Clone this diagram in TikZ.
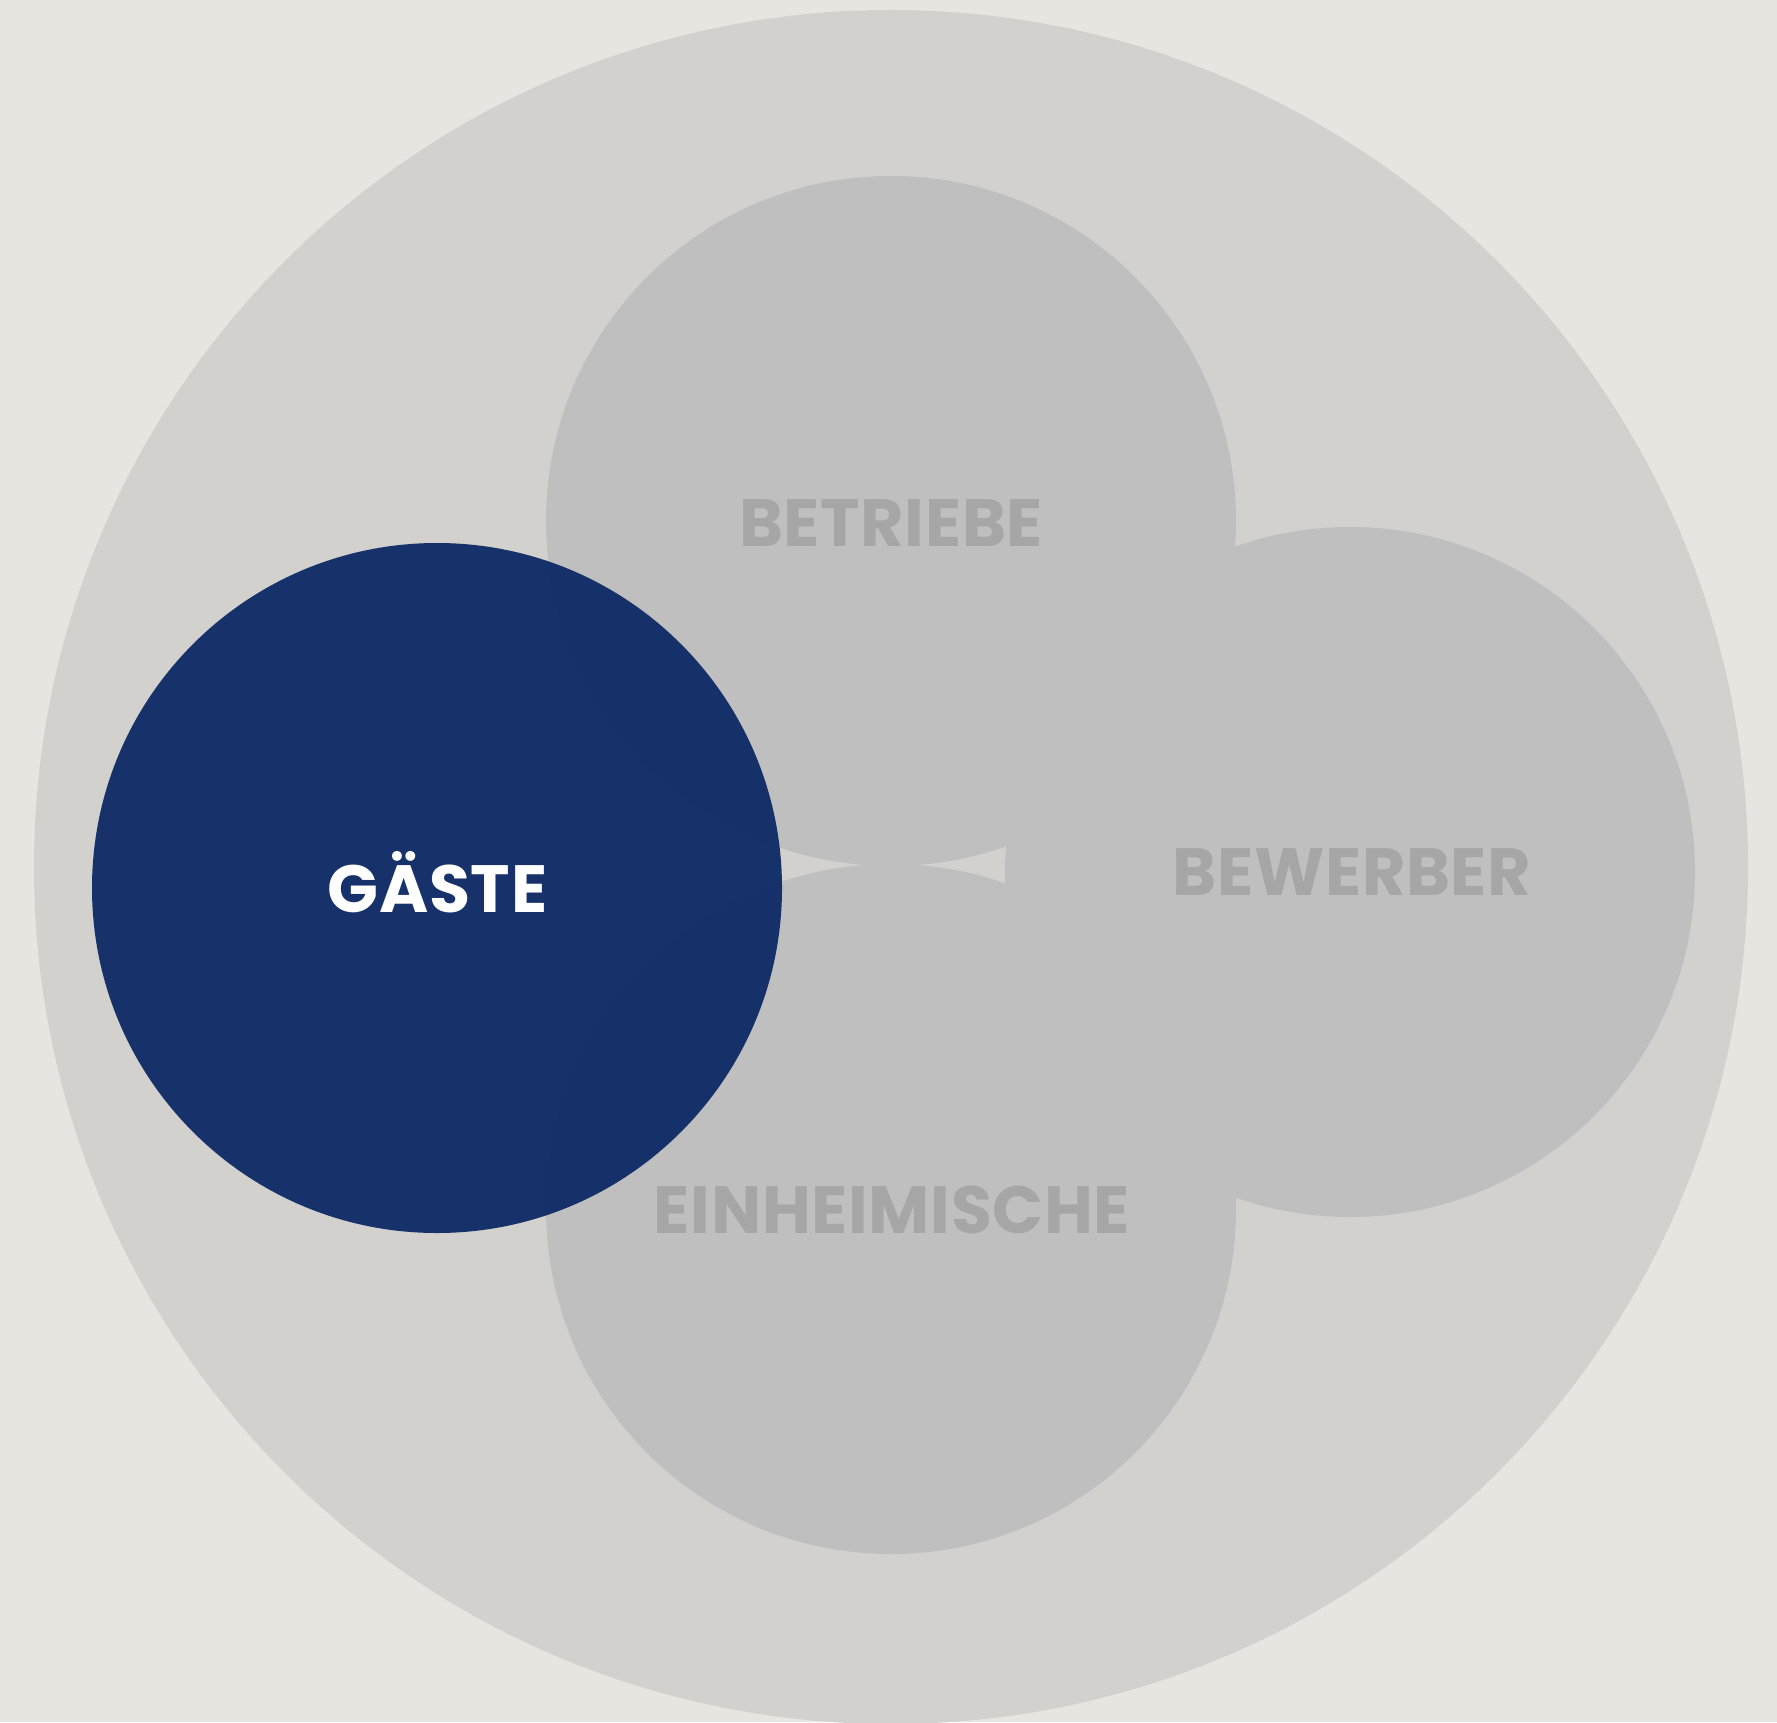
\documentclass[tikz,border=0pt]{standalone}
\usepackage{fontspec}
\setmainfont{Poppins}[BoldFont={Poppins Bold}]
\newfontfamily\labelfont{Poppins Bold}[LetterSpace=1]
\definecolor{paper}{HTML}{E7E5DF}
\definecolor{outer}{HTML}{D2D1CE}
\definecolor{ring}{HTML}{BFBFBF}
\definecolor{ringtext}{HTML}{A6A6A6}
\definecolor{navy}{HTML}{112C67}
\tikzset{
  group/.style={fill=ring},
  grouplabel/.style={font=\labelfont\fontsize{19}{19}\selectfont, text=ringtext, anchor=base, inner sep=0pt},
}
\begin{document}
\begin{tikzpicture}[x=0.01cm, y=-0.01cm]
    \useasboundingbox (0,0) rectangle (1777,1722);
    \fill[paper] (0,0) rectangle (1777,1722);

    \begin{scope}
        \clip (0,0) rectangle (1777,1722);
        \fill[outer] (891,867) circle (857);
    \end{scope}

    % the three grey groups
    \fill[group] (891,521) circle (345);
    \fill[group] (891,1209) circle (345);
    \fill[group] (1350,872) circle (345);

    % highlighted group
    \fill[navy, fill opacity=0.97] (437,888) circle (345);

    \node[grouplabel] (betriebe) at (891,546) {BETRIEBE};
    \node[grouplabel] (bewerber) at (1352,895) {BEWERBER};
    \node[grouplabel] (einheimische) at (892,1233) {EINHEIMISCHE};
    \node[grouplabel, text=white] (gaeste) at (437.5,912) {GÄSTE};
\end{tikzpicture}
\end{document}
